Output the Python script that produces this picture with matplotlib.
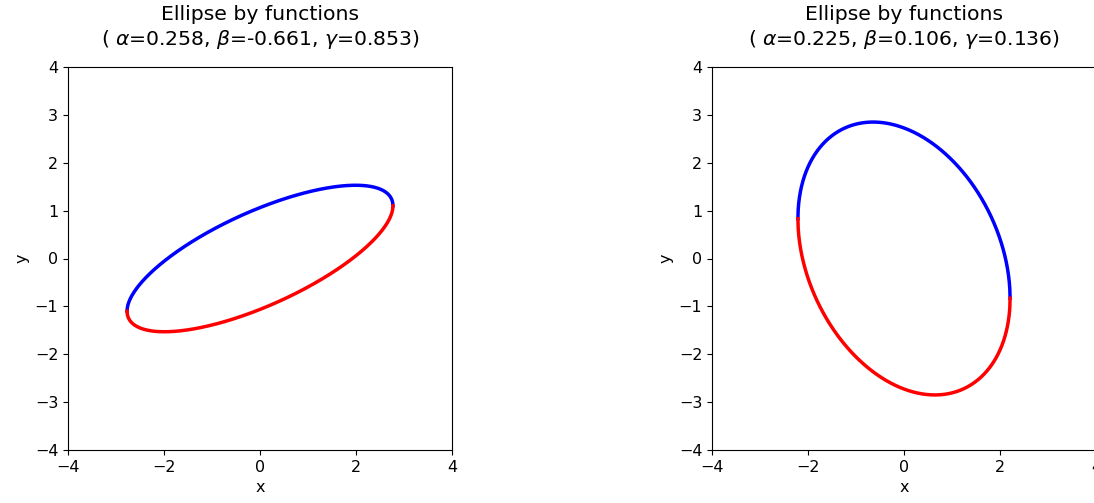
import numpy as np
import matplotlib
matplotlib.use('Agg')
import matplotlib.pyplot as plt

# title parameters for each panel
alphas = [0.258, 0.225]
betas = [-0.661, 0.106]
gammas = [0.853, 0.136]

# ellipse shape: half-width in x, y at the x extreme, half-height in y
x_extent = [2.77, 2.21]
y_at_xmax = [1.10, -0.83]
y_extent = [1.53, 2.85]

fig = plt.figure(figsize=(10.94, 5.03), dpi=100)
left_edges = [68 / 1094, 712 / 1094]

for i in range(2):
    ax = fig.add_axes([left_edges[i], 53 / 503, 384 / 1094, 383 / 503])

    sxx = x_extent[i] ** 2
    sxy = y_at_xmax[i] * x_extent[i]
    syy = y_extent[i] ** 2
    det = sxx * syy - sxy ** 2

    x = np.linspace(-x_extent[i], x_extent[i], 800)
    centre = sxy / sxx * x
    half = np.sqrt(np.clip(det / sxx * (1 - x ** 2 / sxx), 0, None))

    ax.plot(x, centre + half, color='blue', lw=2.5)
    ax.plot(x, centre - half, color='red', lw=2.5)

    ax.set_xlim(-4, 4)
    ax.set_ylim(-4, 4)
    ax.set_xticks([-4, -2, 0, 2, 4])
    ax.set_yticks(range(-4, 5))
    ax.tick_params(labelsize=11.5)
    ax.set_xlabel('x', fontsize=11.5)
    ax.set_ylabel('y', fontsize=11.5)
    ax.set_title('Ellipse by functions\n( $\\alpha$=%.3f, $\\beta$=%.3f, $\\gamma$=%.3f)'
                 % (alphas[i], betas[i], gammas[i]), fontsize=14.7, pad=16)

fig.savefig('out.png', dpi=100)
